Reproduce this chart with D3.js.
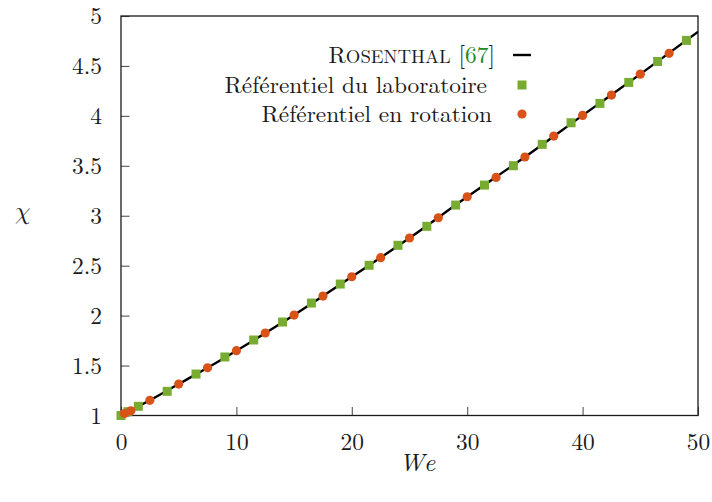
<!DOCTYPE html>
<html>
<head>
<meta charset="utf-8">
<script src="https://cdn.jsdelivr.net/npm/d3@7/dist/d3.min.js"></script>
<style>
  html, body { margin: 0; padding: 0; background: #fff; }
  svg { display: block; }
  svg text { font-family: "Latin Modern Roman", "Liberation Serif", serif; fill: #1a1a1a; }
  svg text.math { font-family: "Latin Modern Math", "Latin Modern Roman", "DejaVu Serif", serif; }
</style>
</head>
<body>
<svg id="chart" width="712" height="502"></svg>
<script>
// Rosenthal reference curve chi(We)
const rosenthalWe  = [0, 2.5, 5, 7.5, 10, 15, 20, 25, 30, 35, 40, 45, 50];
const rosenthalChi = [1.0, 1.152, 1.315, 1.478, 1.649, 2.006, 2.389, 2.777, 3.19, 3.588, 4.005, 4.418, 4.842];

// Laboratory frame simulations
const labWe  = [0, 0.6, 1.5, 4, 6.5, 9, 11.5, 14, 16.5, 19, 21.5, 24, 26.5, 29, 31.5, 34, 36.5, 39, 41.5, 44, 46.5, 49];
const labChi = [1.0, 1.038, 1.092, 1.242, 1.415, 1.586, 1.756, 1.936, 2.126, 2.316, 2.504, 2.704, 2.894, 3.107, 3.307, 3.501, 3.715, 3.931, 4.125, 4.335, 4.545, 4.756];

// Rotating frame simulations
const rotWe  = [0.3, 0.85, 2.5, 5, 7.5, 10, 12.5, 15, 17.5, 20, 22.5, 25, 27.5, 30, 32.5, 35, 37.5, 40, 42.5, 45, 47.5];
const rotChi = [1.02, 1.047, 1.152, 1.315, 1.478, 1.649, 1.826, 2.006, 2.196, 2.389, 2.58, 2.777, 2.98, 3.19, 3.384, 3.588, 3.798, 4.005, 4.208, 4.418, 4.626];

const xTicks = [0, 10, 20, 30, 40, 50];
const yTicks = [1, 1.5, 2, 2.5, 3, 3.5, 4, 4.5, 5];

const legendLabels = ["Référentiel du laboratoire", "Référentiel en rotation"];

const GREEN = "#77ac30", ORANGE = "#d95319", CITE = "#1f8a1f";
const FS = 23.4;

const svg = d3.select("#chart");
const L = 121, R = 698, T = 16, B = 415.5;

const x = d3.scaleLinear().domain([0, 50]).range([L, R]);
const y = d3.scaleLinear().domain([1, 5]).range([B, T]);

// Axes with inward ticks
const xAxis = d3.axisBottom(x).tickValues(xTicks).tickSize(-8.5).tickPadding(18).tickFormat(d3.format("d"));
const yAxis = d3.axisLeft(y).tickValues(yTicks).tickSize(-8.5).tickPadding(19).tickFormat(d => String(d));

const gx = svg.append("g").attr("transform", `translate(0,${B})`).call(xAxis);
const gy = svg.append("g").attr("transform", `translate(${L},0)`).call(yAxis);
[gx, gy].forEach(g => {
  g.attr("font-size", FS);
  g.select(".domain").remove();
  g.selectAll(".tick line").attr("stroke", "#555").attr("stroke-width", 1.1);
  g.selectAll(".tick text").attr("fill", "#1a1a1a");
});
gx.selectAll(".tick text").attr("dy", "0.71em");
gy.selectAll(".tick text").attr("dy", "0.34em");

// Frame
svg.append("rect")
  .attr("x", L).attr("y", T).attr("width", R - L).attr("height", B - T)
  .attr("fill", "none").attr("stroke", "#1a1a1a").attr("stroke-width", 1.3);

// Clip for data
svg.append("clipPath").attr("id", "plotclip")
  .append("rect").attr("x", L - 6).attr("y", T).attr("width", R - L + 6).attr("height", B - T + 6);

const plot = svg.append("g").attr("clip-path", "url(#plotclip)");

const line = d3.line().x(d => x(d[0])).y(d => y(d[1])).curve(d3.curveMonotoneX);
plot.append("path")
  .datum(rosenthalWe.map((w, i) => [w, rosenthalChi[i]]))
  .attr("d", line).attr("fill", "none").attr("stroke", "#000").attr("stroke-width", 2.4);

const SQ = 9;
plot.selectAll("rect.lab").data(labWe.map((w, i) => [w, labChi[i]])).join("rect")
  .attr("class", "lab")
  .attr("x", d => x(d[0]) - SQ / 2).attr("y", d => y(d[1]) - SQ / 2)
  .attr("width", SQ).attr("height", SQ).attr("fill", GREEN);

plot.selectAll("circle.rot").data(rotWe.map((w, i) => [w, rotChi[i]])).join("circle")
  .attr("class", "rot")
  .attr("cx", d => x(d[0])).attr("cy", d => y(d[1])).attr("r", 4.6).attr("fill", ORANGE);

// Legend
const lg = svg.append("g").attr("font-size", FS);
const sampleX = 522;
const rowY = [55, 85, 114];
const rowRight = [495, 487, 492];

const t0 = lg.append("text").attr("x", rowRight[0]).attr("y", rowY[0] + 7.5).attr("text-anchor", "end");
t0.append("tspan").text("R");
t0.append("tspan").attr("font-size", FS * 0.8).text("OSENTHAL");
t0.append("tspan").text(" [");
t0.append("tspan").attr("fill", CITE).text("67");
t0.append("tspan").text("]");

lg.append("line").attr("x1", sampleX - 9).attr("x2", sampleX + 9)
  .attr("y1", rowY[0]).attr("y2", rowY[0]).attr("stroke", "#000").attr("stroke-width", 2.4);

legendLabels.forEach((lab, i) => {
  lg.append("text").attr("x", rowRight[i + 1]).attr("y", rowY[i + 1] + 7.5)
    .attr("text-anchor", "end").text(lab);
});
lg.append("rect").attr("x", sampleX - SQ / 2).attr("y", rowY[1] - SQ / 2)
  .attr("width", SQ).attr("height", SQ).attr("fill", GREEN);
lg.append("circle").attr("cx", sampleX).attr("cy", rowY[2]).attr("r", 4.6).attr("fill", ORANGE);

// Axis titles
svg.append("text").attr("x", 418).attr("y", 471).attr("text-anchor", "middle")
  .attr("font-size", 25).attr("letter-spacing", 1.5).attr("font-style", "italic").text("We");
svg.append("text").attr("class", "math").attr("x", 22).attr("y", 219).attr("text-anchor", "middle")
  .attr("font-size", 25).attr("font-style", "italic").text("χ");
</script>
</body>
</html>
